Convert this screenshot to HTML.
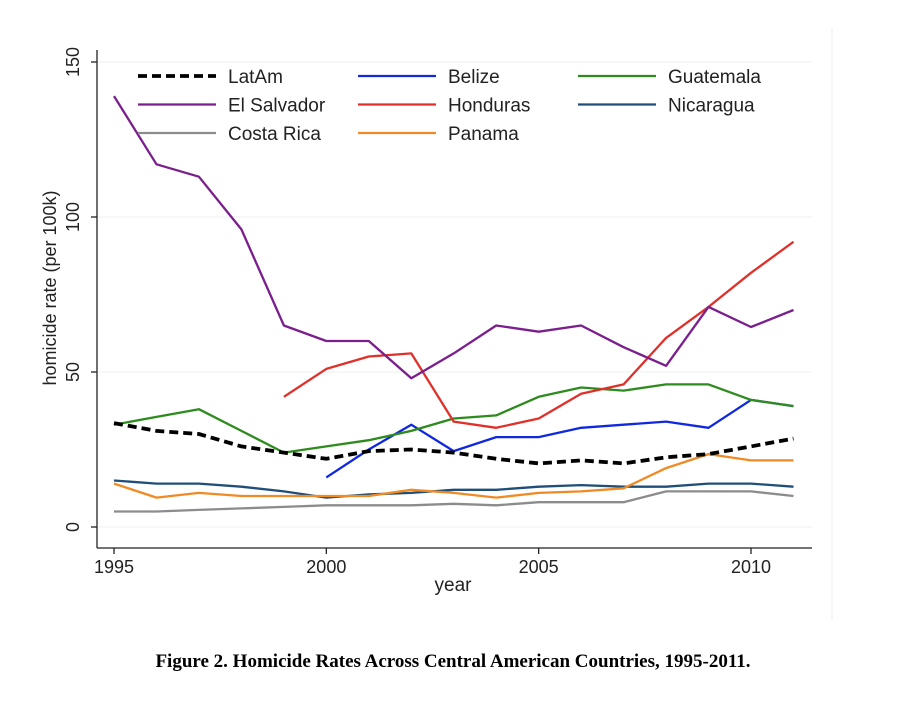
<!DOCTYPE html>
<html><head><meta charset="utf-8"><style>
body{margin:0;background:#fff;width:900px;height:708px;overflow:hidden}
svg text{font-family:"Liberation Sans",sans-serif}
</style></head><body>
<svg id="chart" width="900" height="708">
<rect x="40" y="28" width="792" height="592" fill="#fff"/>
<line x1="832" y1="28" x2="832" y2="620" stroke="#eee"/>
<g id="grid"></g><g id="axes"></g><g id="series"></g><g id="legend"></g>
<text x="453" y="591" font-size="19" text-anchor="middle" fill="#222">year</text>
<text transform="translate(56,288) rotate(-90)" font-size="18" text-anchor="middle" fill="#222">homicide rate (per 100k)</text>
<text x="453" y="667" font-size="19" font-weight="bold" text-anchor="middle" fill="#000" style="font-family:'Liberation Serif',serif">Figure 2. Homicide Rates Across Central American Countries, 1995-2011.</text>
</svg>
<script>
const years=[1995,1996,1997,1998,1999,2000,2001,2002,2003,2004,2005,2006,2007,2008,2009,2010,2011];
const xTicks=[1995,2000,2005,2010];
const yTicks=[0,50,100,150];
const latam=[33.5,31,30,26,24,22,24.5,25,24,22,20.5,21.5,20.5,22.5,23.5,26,28.5];
const belize=[null,null,null,null,null,16,25,33,24.5,29,29,32,33,34,32,41,39];
const guatemala=[33,35.5,38,31,24,26,28,31,35,36,42,45,44,46,46,41,39];
const elSalvador=[139,117,113,96,65,60,60,48,56,65,63,65,58,52,71,64.5,70];
const honduras=[null,null,null,null,42,51,55,56,34,32,35,43,46,61,71,82,92];
const nicaragua=[15,14,14,13,11.5,9.5,10.5,11,12,12,13,13.5,13,13,14,14,13];
const costaRica=[5,5,5.5,6,6.5,7,7,7,7.5,7,8,8,8,11.5,11.5,11.5,10];
const panama=[14,9.5,11,10,10,10,10,12,11,9.5,11,11.5,12.5,19,23.5,21.5,21.5];
const names=["LatAm","Belize","Guatemala","El Salvador","Honduras","Nicaragua","Costa Rica","Panama"];
const NS="http://www.w3.org/2000/svg";
const X=v=>114+(v-1995)*(637/15);
const Y=v=>527-v*3.1;
function mk(t,a,p){const e=document.createElementNS(NS,t);for(const k in a)e.setAttribute(k,a[k]);p.appendChild(e);return e;}
const grid=document.getElementById('grid'),axes=document.getElementById('axes'),ser=document.getElementById('series'),leg=document.getElementById('legend');
yTicks.forEach(t=>{
 const g=mk('line',{x1:98,x2:812,y1:Y(t),y2:Y(t),stroke:'#eef2f2','stroke-width':1},grid);
 
 
 const tk=mk('line',{x1:91,x2:97,y1:Y(t),y2:Y(t),stroke:'#222','stroke-width':1.3},axes);
 
 
 const lb=mk('text',{transform:`translate(79,${Y(t)}) rotate(-90)`,'font-size':18,'text-anchor':'middle',fill:'#222'},axes);
 lb.textContent=t;
 
 
});
xTicks.forEach(t=>{
 const tk=mk('line',{x1:X(t),x2:X(t),y1:548,y2:554,stroke:'#222','stroke-width':1.3},axes);
 
 
 const lb=mk('text',{x:X(t),y:573,'font-size':18,'text-anchor':'middle',fill:'#222'},axes);
 lb.textContent=t;
 
 
});
const ya=mk('line',{x1:97,x2:97,y1:50,y2:548,stroke:'#222','stroke-width':1.3},axes);


const xa=mk('line',{x1:97,x2:812,y1:548,y2:548,stroke:'#222','stroke-width':1.3},axes);


const defs=[
 [nicaragua,'#1f4e79',2.3,null,'Nicaragua'],
 [costaRica,'#8c8c8c',2.3,null,'Costa Rica'],
 [panama,'#f08a24',2.3,null,'Panama'],
 [belize,'#1028e0',2.3,null,'Belize'],
 [guatemala,'#2e8b1e',2.3,null,'Guatemala'],
 [honduras,'#e0302a',2.3,null,'Honduras'],
 [elSalvador,'#7a1f8c',2.3,null,'El Salvador'],
 [latam,'#000',3.8,'9,5','LatAm']
];
const style={};
defs.forEach(([d,c,w,da,n])=>{
 style[n]=[c,w,da];
 let p='';d.forEach((v,i)=>{if(v==null)return;p+=(p?'L':'M')+X(years[i]).toFixed(1)+','+Y(v).toFixed(1);});
 const a={d:p,fill:'none',stroke:c,'stroke-width':w,'stroke-linejoin':'round'};if(da)a['stroke-dasharray']=da;
 const e=mk('path',a,ser);
 
 
});
names.forEach((n,i)=>{
 const col=i%3,row=Math.floor(i/3);
 const x0=138+col*220,y0=76+row*28.5;
 const [c,w,da]=style[n];
 const a={x1:x0,x2:x0+78,y1:y0,y2:y0,stroke:c,'stroke-width':w};if(da)a['stroke-dasharray']=da;
 const l=mk('line',a,leg);
 
 
 const t=mk('text',{x:x0+90,y:y0+7,'font-size':19,fill:'#222'},leg);
 t.textContent=n;
 
 
});
</script>
</body></html>
